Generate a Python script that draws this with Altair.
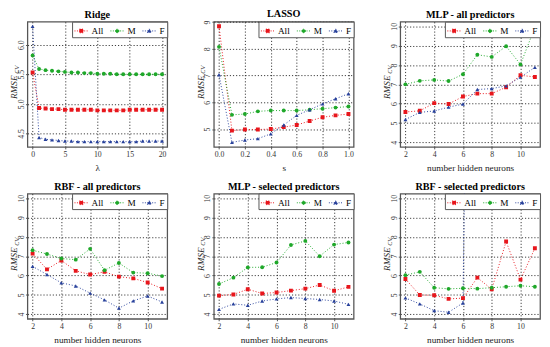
import altair as alt
import pandas as pd

SERIF = "'Liberation Serif', 'Times New Roman', 'DejaVu Serif', serif"
series = ["All", "M", "F"]
colors = ["#e8161c", "#1fa82a", "#27409b"]
shapes = ["square", "circle", "triangle-up"]

# Ridge
ridge_lambda = list(range(21))
ridge_all = [5.53, 4.93, 4.92, 4.91, 4.91, 4.90, 4.90, 4.90, 4.90, 4.90, 4.89,
             4.89, 4.89, 4.89, 4.89, 4.90, 4.90, 4.90, 4.90, 4.90, 4.90]
ridge_m = [5.82, 5.59, 5.57, 5.56, 5.55, 5.54, 5.53, 5.53, 5.52, 5.52, 5.51,
           5.51, 5.51, 5.50, 5.50, 5.50, 5.50, 5.50, 5.50, 5.50, 5.50]
ridge_f = [6.31, 4.43, 4.40, 4.39, 4.38, 4.37, 4.37, 4.36, 4.36, 4.36, 4.36,
           4.36, 4.36, 4.36, 4.36, 4.36, 4.36, 4.37, 4.37, 4.37, 4.37]

# LASSO
lasso_s = [0.0, 0.1, 0.2, 0.3, 0.4, 0.5, 0.6, 0.7, 0.8, 0.9, 1.0]
lasso_all = [8.84, 4.94, 4.98, 4.98, 5.00, 5.07, 5.15, 5.30, 5.44, 5.51, 5.56]
lasso_m = [8.07, 5.53, 5.56, 5.66, 5.69, 5.69, 5.69, 5.72, 5.76, 5.80, 5.84]
lasso_f = [7.03, 4.50, 4.59, 4.64, 4.82, 5.15, 5.51, 5.72, 5.94, 6.13, 6.32]

# neural nets
neurons = [2, 3, 4, 5, 6, 7, 8, 9, 10, 11]
mlp_all_all = [5.57, 5.63, 6.03, 5.98, 6.37, 6.52, 6.52, 6.85, 7.47, 7.38]
mlp_all_m = [7.00, 7.18, 7.23, 7.17, 7.52, 8.53, 8.42, 8.97, 8.03, 9.95]
mlp_all_f = [5.18, 5.55, 5.62, 5.82, 5.98, 6.73, 6.78, 6.92, 7.37, 7.88]

rbf_all_all = [7.13, 6.32, 6.78, 6.24, 6.05, 6.19, 5.94, 5.85, 5.64, 5.32]
rbf_all_m = [7.31, 7.11, 6.88, 6.82, 7.38, 6.27, 6.65, 6.15, 6.12, 5.97]
rbf_all_f = [6.47, 6.05, 5.62, 5.46, 5.09, 4.74, 4.31, 4.69, 4.94, 4.63]

mlp_sel_all = [4.96, 5.02, 5.29, 5.07, 5.12, 5.22, 5.32, 5.51, 5.21, 5.41]
mlp_sel_m = [5.56, 5.89, 6.42, 6.43, 6.67, 7.58, 7.79, 7.00, 7.60, 7.71]
mlp_sel_f = [4.25, 4.53, 4.46, 4.68, 4.79, 4.86, 4.81, 4.76, 4.68, 4.51]

rbf_sel_all = [5.82, 4.99, 4.98, 4.79, 4.83, 5.89, 5.29, 7.76, 5.79, 7.41]
rbf_sel_m = [6.02, 6.19, 5.37, 5.31, 5.34, 5.32, 5.37, 5.42, 5.47, 5.42]
rbf_sel_f = [4.84, 4.53, 4.18, 4.10, 4.58, 60.0, None, None, None, None]

W, H = 144, 129

# legend symbols: dotted line segment with the marker in the middle
legend_paths = [
    "M-1,0L1,0M-0.27,-0.27h0.54v0.54h-0.54Z",
    "M-1,0L1,0M0.26,0A0.26,0.26,0,1,1,-0.26,0A0.26,0.26,0,1,1,0.26,0Z",
    "M-1,0L1,0M0,-0.3L0.3,0.22L-0.3,0.22Z",
]


def panel(xs, a, m, f, title, xtitle, xdomain, xticks, xfmt, ydomain, yticks, yfmt):
    rows = []
    for name, vals in zip(series, [a, m, f]):
        for xv, yv in zip(xs, vals):
            if yv is not None:
                rows.append({"x": xv, "v": yv, "s": name})
    df = pd.DataFrame(rows)
    base = alt.Chart(df)
    xenc = alt.X("x:Q", scale=alt.Scale(domain=xdomain, nice=False, zero=False),
                 axis=alt.Axis(values=xticks, format=xfmt, title=xtitle))
    yenc = alt.Y("v:Q", scale=alt.Scale(domain=ydomain, nice=False, zero=False),
                 axis=alt.Axis(values=yticks, format=yfmt, title=None))
    layers = []
    for name, col in zip(series, colors):
        layers.append(base.transform_filter(alt.datum.s == name).mark_line(
            strokeDash=[1, 2], strokeWidth=1, clip=True, color=col).encode(x=xenc, y=yenc))
    for name, col, shp in zip(series, colors, shapes):
        layers.append(base.transform_filter(alt.datum.s == name).mark_point(
            shape=shp, filled=True, size=16, opacity=1, clip=True, color=col).encode(
            x=xenc, y=yenc))
    cscale = alt.Scale(domain=series, range=colors)
    leg = alt.Legend(
        title=None, orient="top-right", direction="horizontal", offset=0,
        fillColor="white", strokeColor="#555", padding=2, labelOffset=3,
        columnPadding=4, symbolSize=196, labelFont=SERIF, labelFontSize=9.5,
        labelColor="black", zindex=1, symbolStrokeWidth=1, symbolDash=[1, 1.5],
        symbolOpacity=1)
    legl = base.transform_filter("false").mark_point(
        filled=True, size=196, strokeWidth=1, opacity=1).encode(
        x=xenc, y=yenc,
        fill=alt.Fill("s:N", scale=cscale, legend=leg),
        stroke=alt.Stroke("s:N", scale=cscale, legend=leg),
        shape=alt.Shape("s:N", scale=alt.Scale(domain=series, range=legend_paths), legend=leg))
    rm = alt.Chart(pd.DataFrame({"t": ["RMSE"]})).mark_text(
        angle=270, font=SERIF, fontStyle="italic", fontSize=9.5, align="center",
        baseline="middle", color="#222").encode(
        text="t:N", x=alt.value(-13.5), y=alt.value(H / 2 + 3))
    cv = alt.Chart(pd.DataFrame({"t": ["CV"]})).mark_text(
        angle=270, font=SERIF, fontStyle="italic", fontSize=6.5, align="center",
        baseline="middle", color="#222").encode(
        text="t:N", x=alt.value(-11), y=alt.value(H / 2 - 15))
    return alt.layer(*layers, legl, rm, cv).properties(width=W, height=H, title=title)


nn_dom = [1.64, 11.36]
nn_y = [3.76, 10.24]
nn_ticks = [2, 4, 6, 8, 10]
nn_yt = [4, 5, 6, 7, 8, 9, 10]

p1 = panel(ridge_lambda, ridge_all, ridge_m, ridge_f, "Ridge", "λ",
           [-0.8, 20.8], [0, 5, 10, 15, 20], "d", [4.27, 6.39], [4.5, 5.0, 5.5, 6.0], ".1f")
p2 = panel(lasso_s, lasso_all, lasso_m, lasso_f, "LASSO", "s",
           [-0.04, 1.04], [0.0, 0.2, 0.4, 0.6, 0.8, 1.0], ".1f", [4.33, 9.01], [5, 6, 7, 8, 9], "d")
p3 = panel(neurons, mlp_all_all, mlp_all_m, mlp_all_f, "MLP - all predictors",
           "number hidden neurons", nn_dom, nn_ticks, "d", nn_y, nn_yt, "d")
p4 = panel(neurons, rbf_all_all, rbf_all_m, rbf_all_f, "RBF - all predictors",
           "number hidden neurons", nn_dom, nn_ticks, "d", nn_y, nn_yt, "d")
p5 = panel(neurons, mlp_sel_all, mlp_sel_m, mlp_sel_f, "MLP - selected predictors",
           "number hidden neurons", nn_dom, nn_ticks, "d", nn_y, nn_yt, "d")
p6 = panel(neurons, rbf_sel_all, rbf_sel_m, rbf_sel_f, "RBF - selected predictors",
           "number hidden neurons", nn_dom, nn_ticks, "d", nn_y, nn_yt, "d")

ind = dict(shape="independent", fill="independent", stroke="independent")
pad = {"left": 0, "top": -5, "right": 0, "bottom": 0}
row1 = alt.hconcat(p1, p2, p3, spacing=26).resolve_scale(**ind)
row2 = alt.hconcat(p4, p5, p6, spacing=26).resolve_scale(**ind)
chart = alt.vconcat(row1, row2, spacing=8).resolve_scale(**ind).properties(padding=pad)

chart = chart.configure(padding=pad).configure_view(
    stroke="#555", strokeWidth=1.3).configure_axis(
    grid=True, gridColor="#222", gridDash=[1.2, 2], gridOpacity=1, gridWidth=0.9,
    domain=False, tickColor="#555", tickSize=2, labelFont=SERIF, labelFontSize=8,
    labelColor="#333", titleFont=SERIF, titleFontSize=9.5, titleFontWeight="normal",
    titleColor="#222", titlePadding=4, labelPadding=1).configure_axisX(
    labelPadding=2).configure_axisY(
    labelAngle=270, labelAlign="center", labelBaseline="bottom", labelPadding=0).configure_title(
    font=SERIF, fontSize=10.5, fontWeight="bold", offset=1, color="black", anchor="middle")

chart.save("out.html", embed_options={"renderer": "svg", "actions": False})
